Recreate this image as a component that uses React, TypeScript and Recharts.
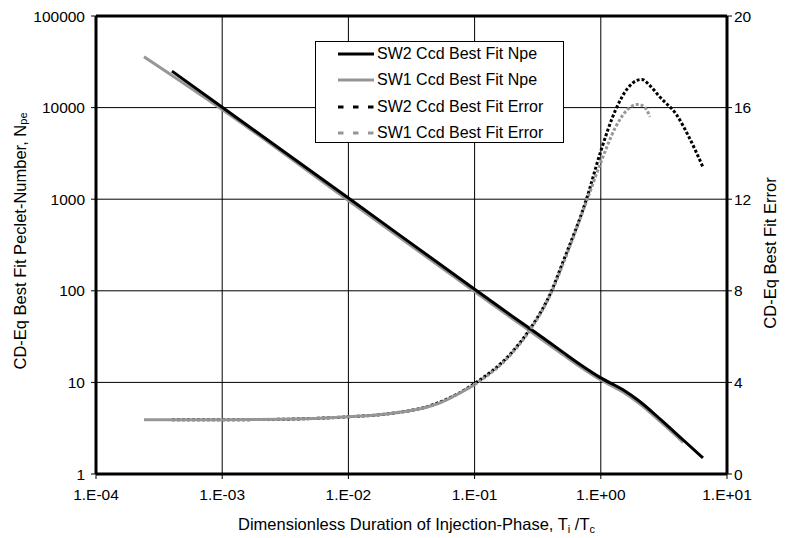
import React from 'react';
import { ComposedChart, Line, XAxis, YAxis, CartesianGrid, Legend, ReferenceLine } from 'recharts';

const xTicks = [1e-4, 1e-3, 1e-2, 1e-1, 1, 10];
const npeTicks = [1, 10, 100, 1000, 10000, 100000];
const errTicks = [0, 4, 8, 12, 16, 20];

const seriesNames = ['SW2 Ccd Best Fit Npe', 'SW1 Ccd Best Fit Npe', 'SW2 Ccd Best Fit Error', 'SW1 Ccd Best Fit Error'];

const sw2NpeX = [0.0004, 0.001, 0.01, 0.1, 0.2, 0.3, 0.5, 0.7, 1.0, 1.5, 2.0, 3.0, 4.5, 6.45];
const sw2NpeY = [25000, 10100, 1030, 104, 52.5, 35.5, 21.4, 15.4, 11.2, 8.3, 6.3, 3.9, 2.35, 1.5];

const sw1NpeX = [0.00024, 0.001, 0.01, 0.1, 0.2, 0.3, 0.5, 0.7, 1.0, 1.5, 2.0, 3.0, 4.5];
const sw1NpeY = [36000, 9550, 970, 98, 49.4, 33.4, 20.1, 14.5, 10.6, 7.85, 5.95, 3.68, 2.22];

const sw2ErrX = [0.0004, 0.001, 0.003, 0.01, 0.02, 0.05, 0.1, 0.2, 0.276, 0.4, 0.505, 0.77, 1.0, 1.31, 1.63, 1.96, 2.11, 2.45, 2.94, 4.0, 5.0, 6.45];
const sw2ErrY = [2.37, 2.37, 2.39, 2.5, 2.62, 3.08, 3.95, 5.35, 6.35, 7.9, 9.3, 12.0, 14.1, 15.9, 16.84, 17.2, 17.23, 16.96, 16.46, 15.67, 14.71, 13.4];

const sw1ErrX = [0.00024, 0.001, 0.003, 0.01, 0.02, 0.05, 0.1, 0.2, 0.276, 0.4, 0.505, 0.77, 1.0, 1.31, 1.63, 1.96, 2.2, 2.45];
const sw1ErrY = [2.37, 2.37, 2.39, 2.5, 2.62, 3.05, 3.9, 5.3, 6.3, 7.85, 9.2, 11.9, 13.6, 15.15, 15.92, 16.14, 16.05, 15.6];

const zip = (xs: number[], ys: number[]) => xs.map((x, i) => ({ x, y: ys[i] }));
const sw2Npe = zip(sw2NpeX, sw2NpeY);
const sw1Npe = zip(sw1NpeX, sw1NpeY);
const sw2Err = zip(sw2ErrX, sw2ErrY);
const sw1Err = zip(sw1ErrX, sw1ErrY);
// the flat part of the SW1 error curve reads as a solid line in the original
const sw1ErrFlat = sw1Err.filter((p) => p.x <= 0.1);
const sw1ErrRise = sw1Err.filter((p) => p.x >= 0.1);

const FONT = '"Liberation Sans", Arial, sans-serif';
const GRAY = '#969696';

const fmtX = (v: number) => {
  const e = Math.round(Math.log10(v));
  const s = e < 0 ? '-' : '+';
  const a = Math.abs(e);
  return `1.E${s}${a < 10 ? '0' : ''}${a}`;
};

const XTitle = (props: any) => {
  const { viewBox } = props;
  const cx = viewBox.x + viewBox.width / 2 + 5;
  const y = viewBox.y + 56;
  return (
    <text x={cx} y={y} textAnchor="middle" fontSize={16.5} fontFamily={FONT} fill="#000">
      <tspan>Dimensionless Duration of Injection-Phase, T</tspan>
      <tspan dy={3} fontSize={11}>i</tspan>
      <tspan dy={-3}> /T</tspan>
      <tspan dy={3} fontSize={11}>c</tspan>
    </text>
  );
};

const LeftTitle = (props: any) => {
  const { viewBox } = props;
  const cx = 20;
  const cy = viewBox.y + viewBox.height / 2 - 4;
  return (
    <text x={cx} y={cy} transform={`rotate(-90, ${cx}, ${cy})`} textAnchor="middle" dominantBaseline="central" fontSize={16.5} fontFamily={FONT} fill="#000">
      <tspan>CD-Eq Best Fit Peclet-Number, N</tspan>
      <tspan dy={3} fontSize={11}>pe</tspan>
    </text>
  );
};

const RightTitle = (props: any) => {
  const { viewBox } = props;
  const cx = 770;
  const cy = viewBox.y + viewBox.height / 2 + 8;
  return (
    <text x={cx} y={cy} transform={`rotate(-90, ${cx}, ${cy})`} textAnchor="middle" dominantBaseline="central" fontSize={16.5} fontFamily={FONT} fill="#000">
      CD-Eq Best Fit Error
    </text>
  );
};

const legendStyles = [
  { color: '#000', dash: undefined as string | undefined },
  { color: GRAY, dash: undefined as string | undefined },
  { color: '#000', dash: '5.5 9.5' },
  { color: GRAY, dash: '5.5 9.5' },
];

const renderLegend = () => (
  <div style={{ width: 249, height: 102, border: '1px solid #000', background: '#fff', boxSizing: 'border-box', position: 'relative', fontFamily: FONT, fontSize: 16 }}>
    {seriesNames.map((name, i) => (
      <div key={name} style={{ position: 'absolute', left: 0, top: 0 + i * 26.3, height: 24, width: '100%', display: 'flex', alignItems: 'center' }}>
        <svg width={36} height={6} style={{ marginLeft: 22 }}>
          <line x1={0} y1={3} x2={36} y2={3} stroke={legendStyles[i].color} strokeWidth={3} strokeDasharray={legendStyles[i].dash} />
        </svg>
        <span style={{ marginLeft: 3, whiteSpace: 'nowrap', color: '#000' }}>{name}</span>
      </div>
    ))}
  </div>
);

export default function App() {
  const tick = { fill: '#000', fontSize: 15.5, fontFamily: FONT };
  return (
    <div style={{ position: 'absolute', left: 0, top: 0 }}>
      <ComposedChart width={787} height={538} margin={{ top: 16, right: 0, left: 0, bottom: 0 }} style={{ fontFamily: FONT }}>
        <CartesianGrid stroke="#000" strokeWidth={1} yAxisId="left" />
        <XAxis
          dataKey="x"
          type="number"
          scale="log"
          domain={[1e-4, 10]}
          ticks={xTicks}
          tickFormatter={fmtX}
          allowDataOverflow
          height={64}
          tick={tick}
          tickSize={5}
          tickMargin={10}
          axisLine={{ stroke: '#000', strokeWidth: 3 }}
          tickLine={{ stroke: '#000' }}
          label={<XTitle />}
        />
        <YAxis
          yAxisId="left"
          type="number"
          scale="log"
          domain={[1, 100000]}
          ticks={npeTicks}
          allowDataOverflow
          width={96}
          tick={tick}
          tickSize={5}
          tickMargin={6}
          axisLine={{ stroke: '#000', strokeWidth: 3 }}
          tickLine={{ stroke: '#000' }}
          label={<LeftTitle />}
        />
        <YAxis
          yAxisId="right"
          orientation="right"
          type="number"
          domain={[0, 20]}
          ticks={errTicks}
          allowDataOverflow
          width={60}
          tick={tick}
          tickSize={5}
          tickMargin={2}
          axisLine={{ stroke: '#000', strokeWidth: 3 }}
          tickLine={{ stroke: '#000' }}
          label={<RightTitle />}
        />
        <ReferenceLine y={100000} yAxisId="left" stroke="#000" strokeWidth={3} />
        <Line data={sw1Npe} dataKey="y" name={seriesNames[1]} yAxisId="left" type="monotone" stroke={GRAY} strokeWidth={3} dot={false} isAnimationActive={false} />
        <Line data={sw2Npe} dataKey="y" name={seriesNames[0]} yAxisId="left" type="monotone" stroke="#000" strokeWidth={3} dot={false} isAnimationActive={false} />
        <Line data={sw2Err} dataKey="y" name={seriesNames[2]} yAxisId="right" type="monotone" stroke="#000" strokeWidth={3} strokeDasharray="3 2" dot={false} isAnimationActive={false} />
        <Line data={sw1ErrFlat} dataKey="y" name={seriesNames[3]} yAxisId="right" type="monotone" stroke={GRAY} strokeWidth={3} dot={false} isAnimationActive={false} legendType="none" />
        <Line data={sw1ErrRise} dataKey="y" name={seriesNames[3]} yAxisId="right" type="monotone" stroke={GRAY} strokeWidth={3} strokeDasharray="3 2" dot={false} isAnimationActive={false} />
        <Legend
          content={renderLegend}
          layout="horizontal"
          verticalAlign="middle"
          align="center"
          wrapperStyle={{ left: 315, top: 41, width: 249, height: 102 }}
        />
      </ComposedChart>
    </div>
  );
}
